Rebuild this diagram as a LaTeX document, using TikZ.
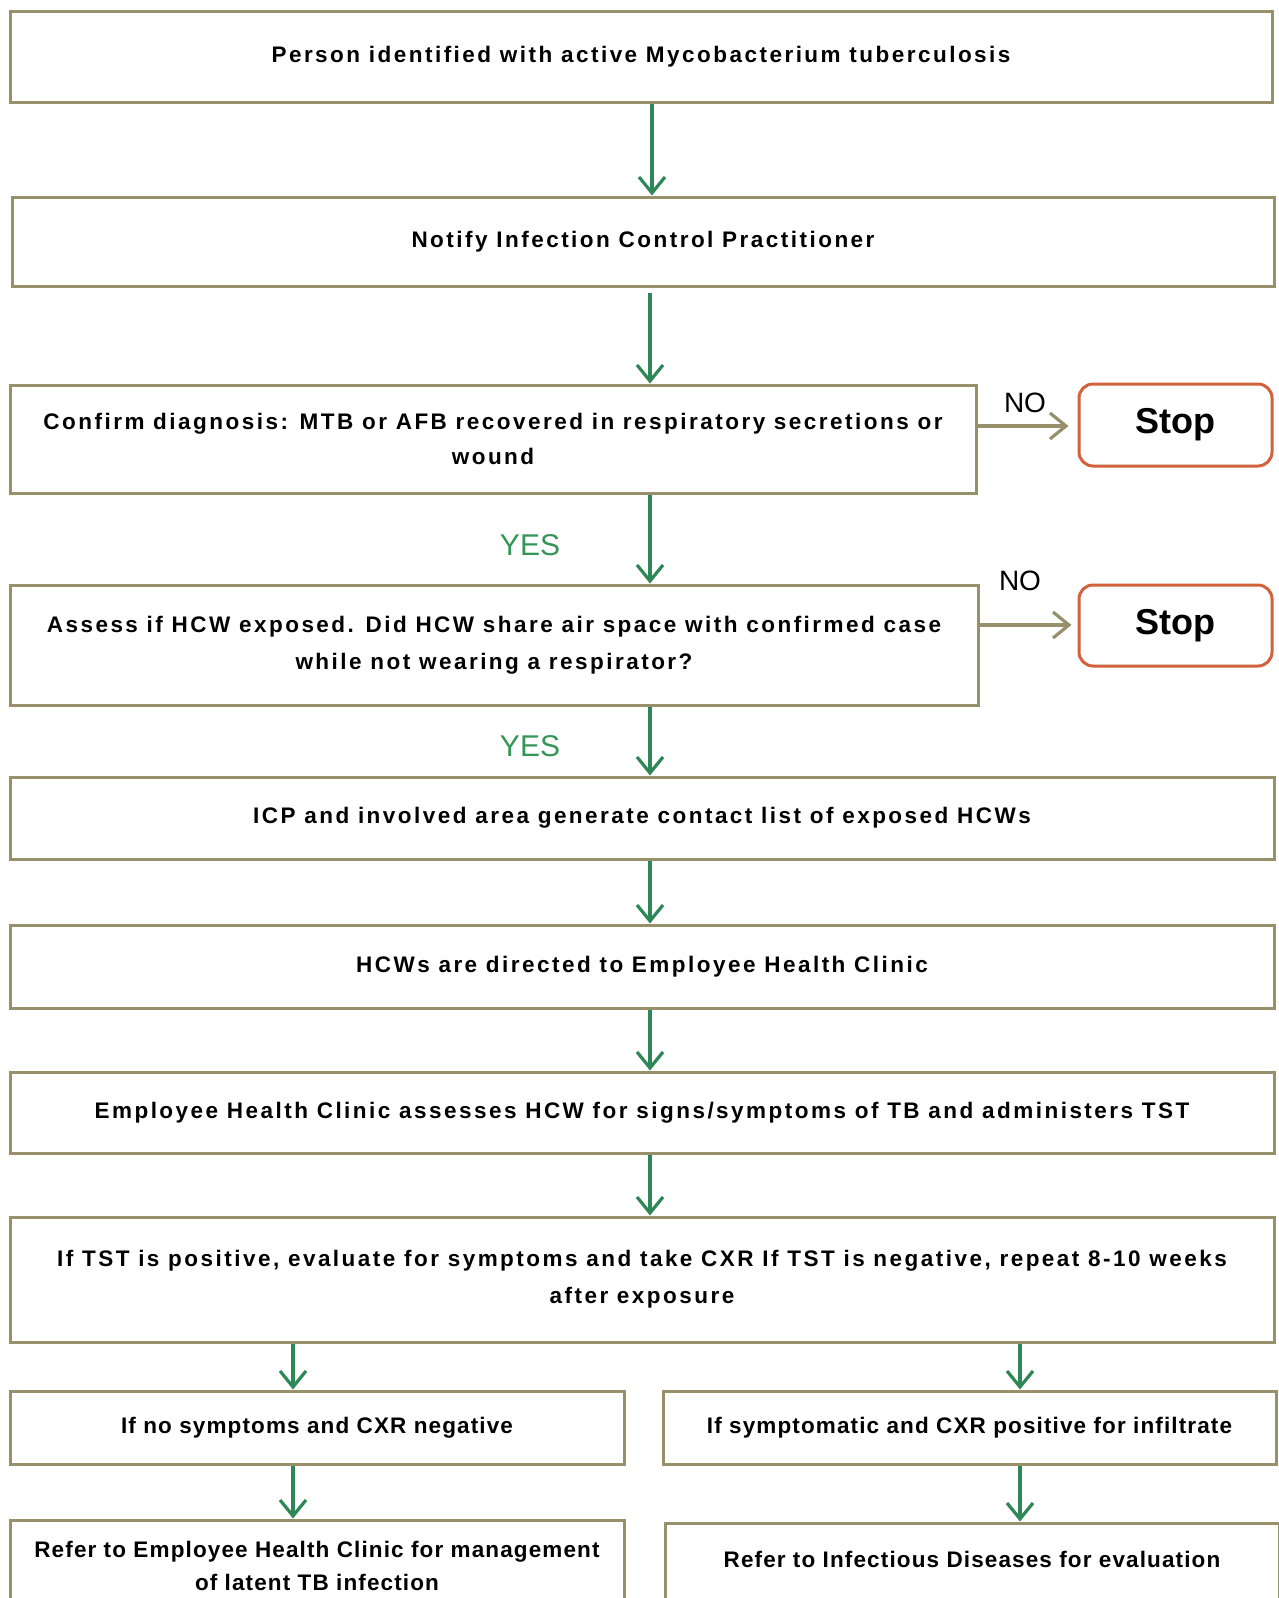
\documentclass[tikz,border=0pt]{standalone}
\usepackage{fontspec}
\setmainfont{Liberation Sans}
\newfontfamily\boxfont[LetterSpace=11]{Liberation Sans}
\newfontfamily\lowfont[LetterSpace=5]{Liberation Sans}
\usetikzlibrary{arrows.meta}
\definecolor{boxc}{RGB}{152,144,106}
\definecolor{arrg}{RGB}{46,135,86}
\definecolor{yesg}{RGB}{52,150,86}
\definecolor{stopc}{RGB}{209,98,60}
\newcommand\boxtext{\boxfont\bfseries\fontsize{22.5}{37}\selectfont}
\newcommand\lowtext{\lowfont\bfseries\fontsize{22.5}{33}\selectfont}
\begin{document}
\begin{tikzpicture}[x=1pt,y=-1pt,
  box/.style={draw=boxc, line width=3pt, rectangle, inner sep=0pt, align=center, font=\boxtext},
  stopbox/.style={draw=stopc, line width=3pt, rounded corners=14pt, inner sep=0pt, minimum width=193pt, font=\fontsize{36}{40}\selectfont\bfseries},
  arr/.style={draw=arrg, line width=3.2pt, -{Straight Barb[length=16pt,width=26pt]}},
  noarr/.style={draw=boxc, line width=3.2pt, -{Straight Barb[length=16pt,width=26pt]}},
  nolab/.style={font=\fontsize{28}{30}\selectfont, inner sep=0pt},
  yeslab/.style={font=\fontsize{30}{32}\selectfont, text=yesg, inner sep=0pt},
  txt/.style={align=center, font=\lowtext, inner sep=0pt}]
\useasboundingbox (0,0) rectangle (1279,1598);
\clip (0,0) rectangle (1279,1598);
\fill[white] (0,0) rectangle (1279,1598);
\coordinate (colM) at (650,0);
\coordinate (colT) at (652,0);
\coordinate (colL) at (293,0);
\coordinate (colR) at (1020,0);

\node[box, minimum width=1262pt, minimum height=91pt] (b1) at (641,56.5) {Person identified with active Mycobacterium tuberculosis};
\node[box, minimum width=1262pt, minimum height=89pt] (b2) at (643,241.5) {Notify Infection Control Practitioner};
\node[box, minimum width=966pt, minimum height=108pt] (b3) at (493,439) {Confirm diagnosis: MTB or AFB recovered in respiratory secretions or\\[-2pt]wound};
\node[stopbox, minimum height=82pt] (s1) at (1175.5,425) {Stop};
\node[box, minimum width=968pt, minimum height=120pt] (b4) at (494,645) {Assess if HCW exposed. Did HCW share air space with confirmed case\\while not wearing a respirator?};
\node[stopbox, minimum height=81pt] (s2) at (1175.5,625.5) {Stop};
\node[box, minimum width=1264pt, minimum height=82pt] (b5) at (642,818) {ICP and involved area generate contact list of exposed HCWs};
\node[box, minimum width=1264pt, minimum height=83pt] (b6) at (642,966.5) {HCWs are directed to Employee Health Clinic};
\node[box, minimum width=1264pt, minimum height=81pt] (b7) at (642,1112.5) {Employee Health Clinic assesses HCW for signs/symptoms of TB and administers TST};
\node[box, minimum width=1264pt, minimum height=125pt] (b8) at (642,1279.5) {If TST is positive, evaluate for symptoms and take CXR If TST is negative, repeat 8-10 weeks\\after exposure};
\node[box, font=\lowtext, minimum width=614pt, minimum height=73pt] (b9l) at (317,1427.5) {If no symptoms and CXR negative};
\node[box, font=\lowtext, minimum width=613pt, minimum height=73pt] (b9r) at (969.5,1427.5) {If symptomatic and CXR positive for infiltrate};
\node[box, minimum width=614pt, minimum height=130pt] (b10l) at (317,1585) {};
\node[txt] (t10l) at (317,1566) {Refer to Employee Health Clinic for management\\of latent TB infection};
\node[box, minimum width=614pt, minimum height=130pt] (b10r) at (972,1588) {};
\node[txt] (t10r) at (972,1559) {Refer to Infectious Diseases for evaluation};

\node[nolab] (no1) at (1025,403) {NO};
\node[nolab] (no2) at (1020,581) {NO};
\node[yeslab] (yes1) at (530,545) {YES};
\node[yeslab] (yes2) at (530,746) {YES};

\draw[arr] (b1.south -| colT) -- (b2.north -| colT);
\draw[arr] (b2.south -| colM) ++(0,5) coordinate (a2s) -- (b3.north -| colM);
\draw[arr] (b3.south -| colM) -- (b4.north -| colM);
\draw[arr] (b4.south -| colM) -- (b5.north -| colM);
\draw[arr] (b5.south -| colM) -- (b6.north -| colM);
\draw[arr] (b6.south -| colM) -- (b7.north -| colM);
\draw[arr] (b7.south -| colM) -- (b8.north -| colM);
\draw[arr] (b8.south -| colL) -- (b9l.north -| colL);
\draw[arr] (b8.south -| colR) -- (b9r.north -| colR);
\draw[arr] (b9l.south -| colL) -- (b10l.north -| colL);
\draw[arr] (b9r.south -| colR) -- (b10r.north -| colR);
\coordinate (n1) at (976,426);
\coordinate (n2) at (978,625);
\draw[noarr] (n1) -- ([xshift=-9pt]s1.west |- n1);
\draw[noarr] (n2) -- ([xshift=-6pt]s2.west |- n2);
\end{tikzpicture}
\end{document}
